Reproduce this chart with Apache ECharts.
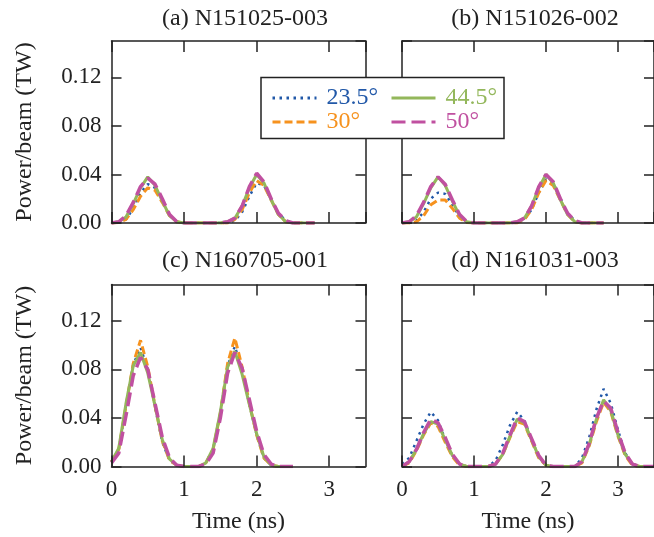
<!DOCTYPE html>
<html>
<head>
<meta charset="utf-8">
<script src="https://cdn.jsdelivr.net/npm/echarts@6/dist/echarts.min.js"></script>
<style>
html,body{margin:0;padding:0;background:#fff;}
#chart{width:654px;height:537px;}
</style>
</head>
<body>
<div id="chart"></div>
<script>
// ---------------- data ----------------
const panelTitles = ['(a) N151025-003', '(b) N151026-002', '(c) N160705-001', '(d) N161031-003'];
const seriesNames = ['23.5°', '30°', '44.5°', '50°'];
const xTicks = [0, 1, 2, 3];
const yTicks = [0.00, 0.04, 0.08, 0.12];
const xRange = [0, 3.5];
const yRange = [0, 0.15];

const timeAB = [0,0.1,0.2,0.3,0.4,0.5,0.6,0.7,0.8,0.9,1.0,1.1,1.2,1.3,1.4,1.5,1.6,1.7,1.8,1.9,2.0,2.1,2.2,2.3,2.4,2.5,2.6,2.7,2.8];
const timeC = [0,0.1,0.2,0.3,0.4,0.5,0.6,0.7,0.8,0.9,1.0,1.1,1.2,1.3,1.4,1.5,1.6,1.7,1.8,1.9,2.0,2.1,2.2,2.3,2.4,2.5];
const timeD = [0,0.1,0.2,0.3,0.4,0.5,0.6,0.7,0.8,0.9,1.0,1.1,1.2,1.3,1.4,1.5,1.6,1.7,1.8,1.9,2.0,2.1,2.2,2.3,2.4,2.5,2.6,2.7,2.8,2.9,3.0,3.1,3.2,3.3,3.4,3.5];

// panel (a)
const a_235 = [0,0.0005,0.003,0.012,0.025,0.032,0.029,0.018,0.006,0.001,0,0,0,0,0,0,0,0.002,0.009,0.022,0.033,0.031,0.020,0.008,0.002,0,0,0,0];
const a_30  = [0,0.0005,0.003,0.011,0.022,0.029,0.027,0.017,0.006,0.001,0,0,0,0,0,0,0,0.003,0.011,0.025,0.035,0.031,0.019,0.007,0.001,0,0,0,0];
const a_445 = [0,0.001,0.005,0.016,0.029,0.038,0.031,0.018,0.006,0.001,0,0,0,0,0,0,0.001,0.004,0.014,0.029,0.040,0.033,0.019,0.007,0.001,0,0,0,0];
const a_50  = [0,0.001,0.006,0.017,0.030,0.037,0.032,0.020,0.007,0.001,0,0,0,0,0,0,0.001,0.004,0.014,0.030,0.041,0.034,0.020,0.008,0.002,0,0,0,0];
// panel (b)
const b_235 = [0,0,0.002,0.009,0.020,0.025,0.024,0.015,0.005,0.001,0,0,0,0,0,0,0,0.003,0.011,0.025,0.036,0.033,0.020,0.008,0.002,0,0,0,0];
const b_30  = [0,0,0.001,0.006,0.015,0.019,0.019,0.012,0.004,0.0005,0,0,0,0,0,0,0,0.003,0.011,0.025,0.035,0.031,0.019,0.007,0.001,0,0,0,0];
const b_445 = [0,0.001,0.005,0.016,0.029,0.038,0.031,0.018,0.006,0.001,0,0,0,0,0,0,0.001,0.004,0.014,0.029,0.040,0.033,0.019,0.007,0.001,0,0,0,0];
const b_50  = [0,0.001,0.006,0.017,0.030,0.038,0.032,0.019,0.007,0.001,0,0,0,0,0,0,0.001,0.004,0.014,0.030,0.040,0.034,0.020,0.008,0.002,0,0,0,0];
// panel (c)
const c_235 = [0.004,0.014,0.050,0.084,0.098,0.080,0.049,0.020,0.005,0.001,0,0,0,0.003,0.014,0.044,0.083,0.099,0.079,0.051,0.026,0.007,0.001,0,0,0];
const c_30  = [0.004,0.014,0.050,0.085,0.104,0.082,0.050,0.021,0.005,0.001,0,0,0,0.003,0.014,0.044,0.085,0.106,0.082,0.052,0.026,0.007,0.001,0,0,0];
const c_445 = [0.004,0.015,0.052,0.083,0.094,0.077,0.050,0.022,0.006,0.001,0,0,0,0.003,0.015,0.045,0.082,0.095,0.076,0.051,0.027,0.008,0.001,0,0,0];
const c_50  = [0.003,0.011,0.042,0.075,0.090,0.080,0.052,0.024,0.007,0.001,0,0,0,0.002,0.011,0.040,0.077,0.094,0.081,0.055,0.029,0.010,0.002,0,0,0];
// panel (d)
const d_235 = [0.002,0.007,0.021,0.035,0.045,0.038,0.022,0.009,0.002,0,0,0,0,0.005,0.018,0.034,0.045,0.038,0.022,0.008,0.001,0,0,0,0,0.007,0.024,0.047,0.064,0.052,0.030,0.011,0.002,0,0,0];
const d_30  = [0,0.003,0.013,0.026,0.036,0.033,0.020,0.008,0.001,0,0,0,0,0.002,0.010,0.024,0.037,0.035,0.021,0.007,0.001,0,0,0,0,0.003,0.017,0.037,0.053,0.045,0.025,0.009,0.001,0,0,0];
const d_445 = [0,0.004,0.014,0.027,0.037,0.035,0.022,0.009,0.002,0,0,0,0,0.002,0.010,0.025,0.039,0.036,0.022,0.008,0.001,0,0,0,0,0.004,0.018,0.039,0.055,0.046,0.026,0.010,0.002,0,0,0];
const d_50  = [0,0.004,0.014,0.028,0.039,0.036,0.024,0.010,0.002,0,0,0,0,0.002,0.011,0.026,0.040,0.037,0.023,0.009,0.001,0,0,0,0,0.004,0.019,0.040,0.054,0.048,0.028,0.011,0.002,0,0,0];

// ---------------- styling ----------------
const FONT = 'Liberation Serif';
const INK = '#222222';
const colors = ['#2158a8', '#f6921e', '#93b75b', '#c050a0'];
const widths = [2.5, 3, 3, 3.5];
const dashes = [[2.5, 4.5], [8, 4], 'solid', [14, 6]];

const panels = [
  {time: timeAB, vals: [a_235, a_30, a_445, a_50], grid: {left: 111.5, top: 41, width: 254, height: 182}, leftCol: true, bottomRow: false, cx: 240, ty: 2},
  {time: timeAB, vals: [b_235, b_30, b_445, b_50], grid: {left: 402, top: 41, width: 254.5, height: 182}, leftCol: false, bottomRow: false, cx: 530, ty: 2},
  {time: timeC,  vals: [c_235, c_30, c_445, c_50], grid: {left: 111.5, top: 284.5, width: 254, height: 182}, leftCol: true, bottomRow: true, cx: 240, ty: 244},
  {time: timeD,  vals: [d_235, d_30, d_445, d_50], grid: {left: 402, top: 284.5, width: 254.5, height: 182}, leftCol: false, bottomRow: true, cx: 530, ty: 244}
];

const lineOn = {show: true, onZero: false, lineStyle: {color: INK, width: 1.5}};
const tickIn = (len) => ({show: true, inside: true, length: len, lineStyle: {color: INK, width: 1.5}});
const noLabel = {show: false};
const AXIS_Z = 30;

const grids = [], xAxes = [], yAxes = [], series = [], titles = [];
panels.forEach((p, i) => {
  grids.push(Object.assign({show: false}, p.grid));
  titles.push({text: panelTitles[i], left: p.cx, top: p.ty, textAlign: 'center',
    textStyle: {fontFamily: FONT, fontSize: 24, fontWeight: 'normal', color: INK}});
  const xb = {gridIndex: i, type: 'value', min: xRange[0], max: xRange[1], interval: xTicks[1] - xTicks[0],
    splitLine: {show: false}, axisTick: tickIn(11), axisLine: lineOn, z: AXIS_Z};
  const yb = {gridIndex: i, type: 'value', min: yRange[0], max: yRange[1], interval: yTicks[1] - yTicks[0],
    splitLine: {show: false}, axisTick: tickIn(10), axisLine: lineOn, z: AXIS_Z};
  xAxes.push(Object.assign({}, xb, {position: 'bottom',
    axisLabel: {show: p.bottomRow, showMaxLabel: false, margin: 12, fontFamily: FONT, fontSize: 23, color: INK},
    name: p.bottomRow ? 'Time (ns)' : '', nameLocation: 'middle', nameGap: 43,
    nameTextStyle: {fontFamily: FONT, fontSize: 24, color: INK}}));
  xAxes.push(Object.assign({}, xb, {position: 'top', axisLabel: noLabel}));
  yAxes.push(Object.assign({}, yb, {position: 'left',
    axisLabel: {show: p.leftCol, showMaxLabel: false, margin: 10, fontFamily: FONT, fontSize: 23, color: INK,
      formatter: v => v.toFixed(2)},
    name: p.leftCol ? 'Power/beam (TW)' : '', nameLocation: 'middle', nameGap: 75,
    nameTextStyle: {fontFamily: FONT, fontSize: 24, color: INK}}));
  yAxes.push(Object.assign({}, yb, {position: 'right', axisLabel: noLabel}));

  p.vals.forEach((vals, k) => {
    series.push({
      type: 'line', name: seriesNames[k], xAxisIndex: i * 2, yAxisIndex: i * 2,
      data: p.time.map((t, j) => [t, vals[j]]),
      symbol: 'none', showSymbol: false, smooth: false, z: 2 + k,
      lineStyle: {color: colors[k], width: widths[k], type: dashes[k]},
      itemStyle: {color: colors[k]}
    });
  });
});

const legendBase = {orient: 'vertical', top: 86, itemWidth: 44, itemHeight: 10, itemGap: 0, padding: 0,
  selectedMode: false, z: 60,
  textStyle: {fontFamily: FONT, fontSize: 24, lineHeight: 23, padding: [0, 0, 0, 5]},
  itemStyle: {opacity: 0},
  lineStyle: {width: 3}};

const option = {
  animation: false,
  backgroundColor: '#ffffff',
  title: titles,
  grid: grids,
  xAxis: xAxes,
  yAxis: yAxes,
  legend: [
    Object.assign({}, legendBase, {left: 271, data: [
      {name: seriesNames[0], textStyle: {color: colors[0]}},
      {name: seriesNames[1], textStyle: {color: colors[1]}}]}),
    Object.assign({}, legendBase, {left: 390, data: [
      {name: seriesNames[2], textStyle: {color: colors[2]}},
      {name: seriesNames[3], textStyle: {color: colors[3]}}]})
  ],
  graphic: [{type: 'rect', z: 50, shape: {x: 261, y: 77.5, width: 243, height: 61},
    style: {fill: '#ffffff', stroke: INK, lineWidth: 1.5}}],
  series: series
};

const chart = echarts.init(document.getElementById('chart'), null, {renderer: 'canvas'});
chart.setOption(option);
</script>
</body>
</html>
